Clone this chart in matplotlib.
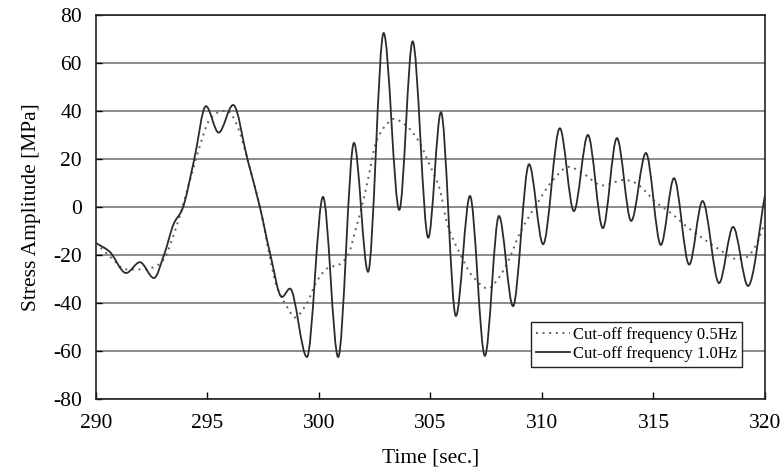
import numpy as np
import matplotlib
matplotlib.use('Agg')
import matplotlib.pyplot as plt
from matplotlib.path import Path
from matplotlib.patches import PathPatch
from matplotlib.lines import Line2D

plt.rcParams['font.family'] = ['Liberation Serif', 'DejaVu Serif']
plt.rcParams['axes.unicode_minus'] = False

# stress, cut-off 1.0Hz (mostly peaks and troughs)
time_10 = [290.0, 290.6, 291.35, 291.97, 292.6, 293.05, 293.5, 293.86, 294.4, 294.93,
           295.5, 296.15, 296.8, 297.35, 297.8, 298.34, 298.7, 299.46, 300.18, 300.86,
           301.57, 302.2, 302.9, 303.6, 304.2, 304.9, 305.47, 306.14, 306.77, 307.44,
           308.07, 308.7, 309.42, 310.05, 310.8, 311.43, 312.06, 312.73, 313.36, 314.0,
           314.66, 315.33, 315.92, 316.6, 317.2, 317.94, 318.57, 319.24, 320.0]
stress_10 = [-15, -18.5, -27.5, -23, -29.6, -20, -6.7, -1.2, 19.6, 42,
             31, 42.5, 19.6, 0, -19, -37.5, -34, -62.5, 4.2, -62.5,
             26.7, -27, 72.5, -1.2, 69, -12.8, 39.5, -45.4, 4.6, -62,
             -3.75, -41.3, 17.8, -15.5, 32.8, -1.7, 30, -8.8, 28.7, -5.8,
             22.5, -15.8, 12, -24, 2.5, -31.7, -8.3, -32.9, 5]

# cut-off 0.5Hz
time_05 = [290.0, 290.67, 291.35, 292.15, 292.7, 293.1, 293.4, 293.7, 294.0, 294.3,
           294.7, 295.07, 295.5, 295.9, 296.15, 296.45, 296.8, 297.35, 297.8, 298.1,
           298.57, 298.92, 299.46, 299.9, 300.4, 300.9, 301.3, 301.66, 301.97, 302.24,
           302.56, 302.9, 303.36, 303.9, 304.5, 304.9, 305.4, 305.74, 306.3, 306.9,
           307.58, 308.1, 308.56, 309.0, 309.8, 310.5, 311.2, 311.84, 312.7, 313.7,
           314.2, 314.66, 315.1, 315.56, 316.0, 316.5, 317.2, 318.0, 318.74, 319.2,
           319.64, 320.0]
stress_05 = [-15, -21, -26, -26, -24.6, -21, -13.8, -5.4, 4, 14,
             26.7, 36, 39.5, 40.2, 37.5, 31, 19.6, 0, -21, -33,
             -41.6, -46, -40, -31, -25.4, -24, -20, -8.8, 2, 13.3,
             27, 33, 36.7, 34, 27, 18.8, 8, -6.7, -19, -29,
             -34, -29, -21, -11, 1.7, 11.3, 16.7, 14, 9.0, 11.3,
             10, 6.3, 2, -1, -4.2, -8.3, -13, -18, -21.7, -20.8,
             -15, -6]

labels = ['Cut-off frequency 0.5Hz', 'Cut-off frequency 1.0Hz']


def smooth_path(x, y):
    '''bezier path through the read points, flat at peaks and troughs'''
    x = np.asarray(x, float)
    y = np.asarray(y, float)
    d = np.diff(y) / np.diff(x)
    m = np.zeros(len(x))
    m[0] = d[0]
    m[-1] = d[-1]
    for i in range(1, len(x) - 1):
        if d[i - 1] * d[i] > 0:
            m[i] = 2.0 / (1.0 / d[i - 1] + 1.0 / d[i])
    verts = [(x[0], y[0])]
    codes = [Path.MOVETO]
    for i in range(len(x) - 1):
        h = x[i + 1] - x[i]
        verts += [(x[i] + h / 3, y[i] + m[i] * h / 3),
                  (x[i + 1] - h / 3, y[i + 1] - m[i + 1] * h / 3),
                  (x[i + 1], y[i + 1])]
        codes += [Path.CURVE4] * 3
    return Path(verts, codes)


fig = plt.figure(figsize=(7.81, 4.67), dpi=100)
ax = fig.add_axes([0.1229, 0.1456, 0.8566, 0.8223])

dot_style = (0, (1, 2.4))
ax.add_patch(PathPatch(smooth_path(time_05, stress_05), fill=False,
                       edgecolor='#606060', lw=1.4, linestyle=dot_style, zorder=3))
ax.add_patch(PathPatch(smooth_path(time_10, stress_10), fill=False,
                       edgecolor='#2b2b2b', lw=1.3, zorder=4))

ax.set_xlim(290, 320)
ax.set_ylim(-80, 80)
ax.set_xticks(np.arange(290, 321, 5))
ax.set_yticks(np.arange(-80, 81, 20))
ax.yaxis.grid(True, color='#8a8a8a', lw=1.4)
ax.set_axisbelow(True)

ax.tick_params(axis='x', direction='in', length=5, width=1, pad=11, labelsize=15.5)
ax.tick_params(axis='y', direction='in', length=4, width=1, pad=10, labelsize=15.5)
for s in ax.spines.values():
    s.set_color('#222222')
    s.set_linewidth(1.2)

ax.set_xlabel('Time [sec.]', fontsize=15.5, labelpad=11)
ax.set_ylabel('Stress Amplitude [MPa]', fontsize=15.5, labelpad=9)

handles = [Line2D([], [], color='#606060', lw=1.4, linestyle=dot_style),
           Line2D([], [], color='#2b2b2b', lw=1.3)]
leg = ax.legend(handles, labels, loc='lower right', bbox_to_anchor=(0.966, 0.083),
                borderaxespad=0, fontsize=12, fancybox=False, framealpha=1,
                edgecolor='#222222', handlelength=2.0, handletextpad=0.2,
                labelspacing=0.2, borderpad=0.3)
leg.get_frame().set_linewidth(1.0)

plt.savefig('out.png', dpi=100)
